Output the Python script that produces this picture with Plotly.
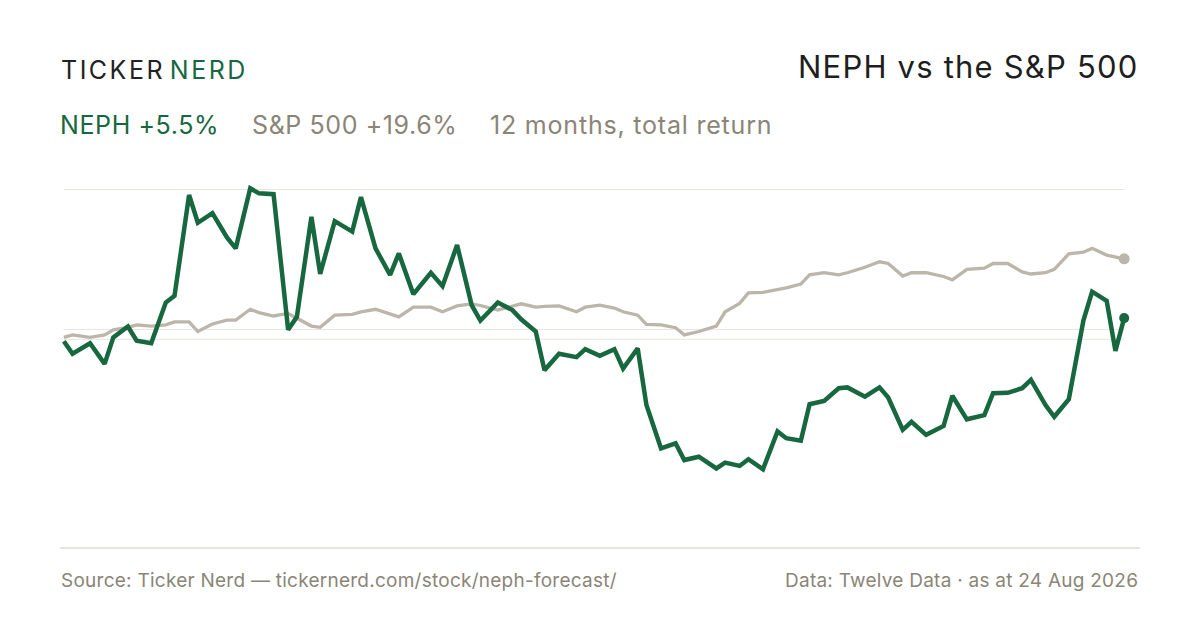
import pandas as pd
import plotly.graph_objects as go

# NYSE holidays in the window; samples are every 3rd trading day plus the last one
HOLIDAYS = [
    '2025-09-01', '2025-11-27', '2025-12-25', '2026-01-01', '2026-01-19',
    '2026-02-16', '2026-04-03', '2026-05-25', '2026-06-19', '2026-07-03',
]
trading_days = pd.bdate_range('2025-08-25', '2026-08-24', freq='C', holidays=HOLIDAYS)
dates = list(trading_days[::3]) + [trading_days[-1]]

# cumulative total return, %
neph_return = [
    0.0, -3.0, -0.5, -5.4, 0.9, 3.5, 0.1, -0.5, 9.2, 10.8,
    34.8, 28.2, 30.5, 24.7, 22.1, 36.4, 35.2, 35.0, 2.7, 5.8,
    29.6, 16.0, 28.6, 26.1, 34.3, 22.1, 15.8, 20.9, 11.2, 16.3,
    13.1, 22.9, 8.6, 4.9, 9.2, 7.4, 5.2, 2.3, -6.9, -3.0,
    -3.8, -1.9, -3.5, -1.9, -6.5, -1.7, -15.2, -25.5, -24.3, -28.3,
    -27.5, -30.3, -28.9, -29.7, -28.1, -30.5, -21.5, -23.1, -23.7, -15.0,
    -14.2, -11.2, -11.0, -13.2, -11.0, -13.4, -21.1, -19.2, -22.3, -20.2,
    -13.0, -18.6, -17.6, -12.4, -12.3, -11.2, -9.2, -15.2, -18.0, -13.8,
    4.9, 11.8, 9.6, -2.3, 5.5,
]
spx_return = [
    0.9, 1.5, 0.9, 1.5, 2.7, 3.3, 3.9, 3.6, 3.9, 4.6,
    4.6, 2.3, 4.1, 5.0, 5.0, 7.6, 6.8, 6.0, 6.6, 5.5,
    3.6, 3.3, 6.2, 6.4, 7.0, 7.6, 6.5, 5.8, 8.1, 8.1,
    7.0, 8.4, 8.9, 8.5, 7.4, 8.4, 8.9, 8.1, 8.3, 8.4,
    7.0, 8.1, 8.6, 7.9, 7.0, 6.2, 4.0, 3.9, 3.2, 1.5,
    2.3, 3.6, 7.0, 9.0, 11.5, 11.6, 12.2, 12.7, 13.6, 15.8,
    16.3, 15.8, 16.3, 17.6, 18.9, 18.5, 15.5, 16.3, 16.3, 15.4,
    14.6, 17.1, 17.4, 18.5, 18.5, 16.5, 16.0, 16.3, 17.1, 20.8,
    21.2, 22.1, 20.5, 20.1, 19.6,
]
grid_levels = [36.1, 2.8, 0.45]

GREEN = '#17683f'
SAND = '#bcb5aa'
GREY_TEXT = '#8a8577'
FONT = 'Inter, Roboto, sans-serif'

W, H = 1200, 630
PAGE = 8  # default body margin of the html page
M = dict(l=58 - PAGE, r=70 + PAGE, t=180 - PAGE, b=150 + PAGE)
PW = W - M['l'] - M['r']
PH = H - M['t'] - M['b']


def px(x):
    return (x - PAGE - M['l']) / PW


def py(y):
    return (H - M['b'] - (y - PAGE)) / PH


def spaced(text, ls, color=None):
    style = 'letter-spacing:%spx' % ls
    if color:
        style += ';color:%s' % color
    return '<span style="%s">%s</span>' % (style, text)


fig = go.Figure()

fig.add_trace(go.Scatter(
    x=dates, y=spx_return, mode='lines',
    line=dict(color=SAND, width=3.3), hoverinfo='skip',
))
fig.add_trace(go.Scatter(
    x=dates, y=neph_return, mode='lines',
    line=dict(color=GREEN, width=4.5), hoverinfo='skip',
))
fig.add_trace(go.Scatter(
    x=[dates[-1]], y=[spx_return[-1]], mode='markers', cliponaxis=False,
    marker=dict(color=SAND, size=11), hoverinfo='skip',
))
fig.add_trace(go.Scatter(
    x=[dates[-1]], y=[neph_return[-1]], mode='markers', cliponaxis=False,
    marker=dict(color=GREEN, size=10), hoverinfo='skip',
))

for lvl in grid_levels:
    fig.add_shape(type='line', xref='x', yref='y', x0=dates[0], x1=dates[-1],
                  y0=lvl, y1=lvl, line=dict(color='#e9e5dd', width=1), layer='below')

fig.add_shape(type='line', xref='paper', yref='paper', x0=px(60), x1=px(1140),
              y0=py(548), y1=py(548), line=dict(color='#e2ddd2', width=1.5))

annotations = [
    dict(x=px(59), y=py(70), xanchor='left',
         text=spaced('TICKER', 2.5) + spaced('\u200aNERD', 2.5, GREEN),
         font=dict(size=25, color='#222222', family=FONT)),
    dict(x=px(1140), y=py(67), xanchor='right', text=spaced('NEPH vs the S&P 500', 1.2),
         font=dict(size=31, color='#1e1e1e', family=FONT)),
    dict(x=px(58), y=py(125), xanchor='left', text=spaced('NEPH +5.5%', 0.6),
         font=dict(size=25, color=GREEN, family=FONT)),
    dict(x=px(250), y=py(125), xanchor='left', text=spaced('S&P 500 +19.6%', 0.6),
         font=dict(size=25, color=GREY_TEXT, family=FONT)),
    dict(x=px(488), y=py(125), xanchor='left', text=spaced('12 months, total return', 0.8),
         font=dict(size=25, color=GREY_TEXT, family=FONT)),
    dict(x=px(59), y=py(580), xanchor='left',
         text=spaced('Source: Ticker Nerd — tickernerd.com/stock/neph-forecast/', 0.25),
         font=dict(size=19, color=GREY_TEXT, family=FONT)),
    dict(x=px(1140), y=py(580), xanchor='right',
         text=spaced('Data: Twelve Data · as at 24 Aug 2026', 0.25),
         font=dict(size=19, color=GREY_TEXT, family=FONT)),
]
for a in annotations:
    a.update(xref='paper', yref='paper', yanchor='middle', showarrow=False)

fig.update_layout(
    width=W, height=H, margin=M,
    paper_bgcolor='white', plot_bgcolor='white',
    showlegend=False,
    xaxis=dict(range=['2025-08-23', '2026-08-26'], visible=False),
    yaxis=dict(range=[-33.05, 38.38], visible=False),
    annotations=annotations,
)

fig.write_html('out.html')
